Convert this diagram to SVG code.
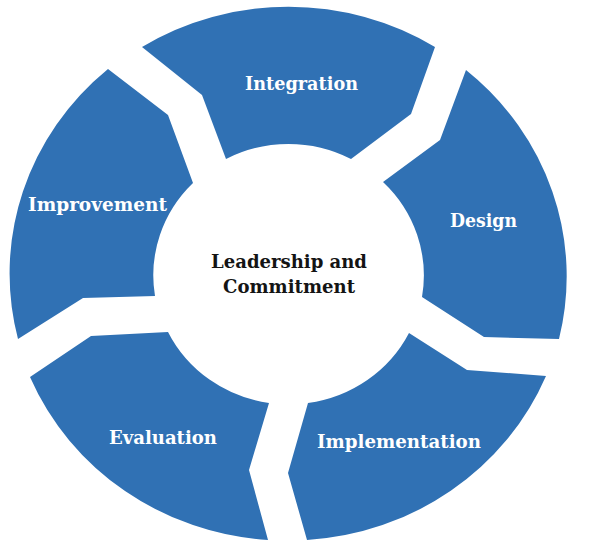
<svg xmlns="http://www.w3.org/2000/svg" width="594" height="547" viewBox="0 0 594 547">
<style>
.seg{fill:#3071b4;stroke:none}
.lbl{font-family:"DejaVu Serif","Liberation Serif",serif;font-weight:bold;font-size:19px;fill:#ffffff;text-anchor:middle}
.ctr{font-family:"DejaVu Serif","Liberation Serif",serif;font-weight:bold;font-size:19px;fill:#141414;text-anchor:middle}
</style>
<rect width="594" height="547" fill="#ffffff"/>
<g id="integration">
<path class="seg" d="M142,47 A278,268 0 0 1 435,47 L411,114 L351,159 A134,130 0 0 0 226,159 L202,95 Z"/>
<text class="lbl" x="301.5" y="90" textLength="113" lengthAdjust="spacingAndGlyphs">Integration</text>
</g>
<g id="design">
<path class="seg" d="M466,70 A278,268 0 0 1 559,339 L484,337 L422,297 A134,130 0 0 0 383,182 L440,140 Z"/>
<text class="lbl" x="483.5" y="227" textLength="67" lengthAdjust="spacingAndGlyphs">Design</text>
</g>
<g id="implementation">
<path class="seg" d="M546,376 A278,268 0 0 1 307,540 L288,473 L308,403 A134,130 0 0 0 409,333 L467,370 Z"/>
<text class="lbl" x="399" y="448" textLength="164" lengthAdjust="spacingAndGlyphs">Implementation</text>
</g>
<g id="evaluation">
<path class="seg" d="M268,540 A278,268 0 0 1 30,377 L91,336 L168,332 A134,130 0 0 0 269,403 L249,470 Z"/>
<text class="lbl" x="163" y="444" textLength="108" lengthAdjust="spacingAndGlyphs">Evaluation</text>
</g>
<g id="improvement">
<path class="seg" d="M18,339 A278,268 0 0 1 108,69 L168,115 L193,183 A134,130 0 0 0 155,296 L83,298 Z"/>
<text class="lbl" x="97.5" y="211" textLength="139" lengthAdjust="spacingAndGlyphs">Improvement</text>
</g>
<g id="center">
<text class="ctr" x="289" y="268" textLength="156" lengthAdjust="spacingAndGlyphs">Leadership and</text>
<text class="ctr" x="289" y="293" textLength="132" lengthAdjust="spacingAndGlyphs">Commitment</text>
</g>
<g id="connectors"></g>
</svg>
